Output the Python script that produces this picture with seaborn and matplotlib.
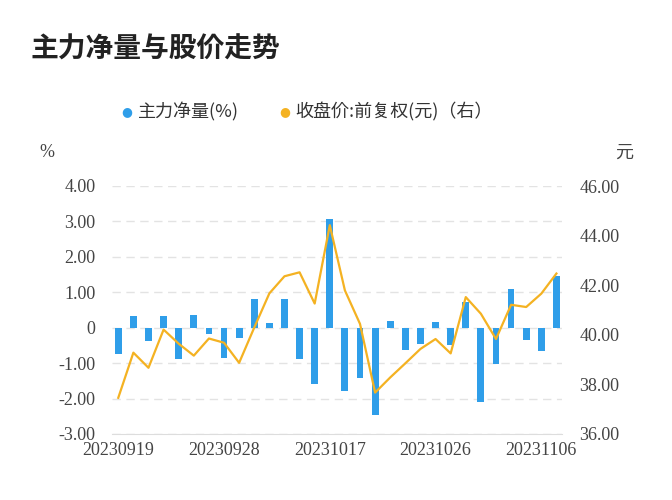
import matplotlib
matplotlib.use("Agg")
import matplotlib.pyplot as plt
import seaborn as sns
import pandas as pd

# --- 데이터 ---
dates = ["20230919", "20230920", "20230921", "20230922", "20230925", "20230926",
         "20230927", "20230928", "20231009", "20231010", "20231011", "20231012",
         "20231013", "20231016", "20231017", "20231018", "20231019", "20231020",
         "20231023", "20231024", "20231025", "20231026", "20231027", "20231030",
         "20231031", "20231101", "20231102", "20231103", "20231106", "20231107"]
net_flow = [-0.75, 0.34, -0.37, 0.34, -0.88, 0.37, -0.17, -0.85, -0.30, 0.82,
            0.12, 0.80, -0.87, -1.60, 3.06, -1.78, -1.42, -2.46, 0.20, -0.62,
            -0.45, 0.15, -0.48, 0.72, -2.10, -1.02, 1.08, -0.34, -0.65, 1.47]
close = [37.46, 39.28, 38.67, 40.21, 39.64, 39.16, 39.85, 39.68, 38.87, 40.29,
         41.67, 42.36, 42.52, 41.26, 44.42, 41.79, 40.44, 37.67, 38.28, 38.85,
         39.43, 39.83, 39.25, 41.52, 40.85, 39.83, 41.21, 41.12, 41.66, 42.47]
left_ticks = [-3, -2, -1, 0, 1, 2, 3, 4]
left_labels = ["-3.00", "-2.00", "-1.00", "0", "1.00", "2.00", "3.00", "4.00"]
right_ticks = [36, 38, 40, 42, 44, 46]
tick_idx = [0, 7, 14, 21, 28]

BLUE = "#2f9ee9"
ORANGE = "#f4b222"
CJK = ["Noto Sans CJK SC", "Noto Sans CJK JP", "Noto Sans CJK TC", "Noto Sans CJK KR", "DejaVu Sans"]
SERIF = "Liberation Serif"

df = pd.DataFrame({"idx": range(len(dates)), "flow": net_flow, "close": close})

fig = plt.figure(figsize=(6.72, 5.0), dpi=100)
ax = fig.add_axes([0.167, 0.132, 0.67, 0.496])
ax2 = ax.twinx()

sns.barplot(data=df, x="idx", y="flow", color=BLUE, saturation=1, width=0.45,
            ax=ax, native_scale=True)
sns.lineplot(data=df, x="idx", y="close", color=ORANGE, lw=1.6, ax=ax2)

ax.set_xlim(-0.4, len(dates) - 0.6)
ax.set_ylim(-3, 4)
ax2.set_ylim(36, 46)
ax.set_yticks(left_ticks)
ax.set_yticklabels(left_labels)
ax2.set_yticks(right_ticks)
ax2.set_yticklabels([f"{t:.2f}" for t in right_ticks])
ax.set_xticks(tick_idx)
ax.set_xticklabels([dates[i] for i in tick_idx])

for a in (ax, ax2):
    for s in a.spines.values():
        s.set_visible(False)
    a.set_xlabel("")
    a.set_ylabel("")
    a.tick_params(length=0, labelsize=13, labelcolor="#444444")
    for lab in a.get_xticklabels() + a.get_yticklabels():
        lab.set_fontfamily(SERIF)
ax.tick_params(axis="y", pad=12)
ax2.tick_params(axis="y", pad=12)
ax.tick_params(axis="x", pad=6)
ax.spines["bottom"].set_visible(True)
ax.spines["bottom"].set_color("#dddddd")
ax.grid(axis="y", color="#e3e3e3", ls=(0, (6, 4)), lw=1)
ax.set_axisbelow(True)

fig.text(0.045, 0.9, "主力净量与股价走势", fontsize=20, fontweight="bold",
         fontfamily=CJK, color="#222222", va="center")

# 범례
fig.text(0.18, 0.776, "●", color=BLUE, fontsize=9, va="center", fontfamily="DejaVu Sans")
fig.text(0.205, 0.776, "主力净量(%)", color="#333333", fontsize=13, va="center", fontfamily=CJK)
fig.text(0.415, 0.776, "●", color=ORANGE, fontsize=9, va="center", fontfamily="DejaVu Sans")
fig.text(0.44, 0.776, "收盘价:前复权(元)（右）", color="#333333", fontsize=13, va="center", fontfamily=CJK)

fig.text(0.058, 0.695, "%", fontsize=13, color="#444444", fontfamily=SERIF, va="center")
fig.text(0.915, 0.695, "元", fontsize=13, color="#444444", fontfamily=CJK, va="center")

fig.savefig("out.png", dpi=100)
